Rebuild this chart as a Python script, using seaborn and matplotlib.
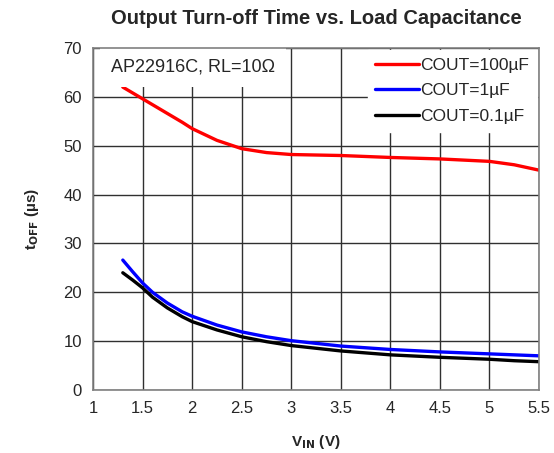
import numpy as np
import pandas as pd
import matplotlib
matplotlib.use("Agg")
import matplotlib.pyplot as plt
import seaborn as sns

# values
vin = [1.3, 1.4, 1.5, 1.6, 1.75, 1.9, 2.0, 2.25, 2.5, 2.75, 3.0, 3.5, 4.0, 4.5, 5.0, 5.25, 5.5]
t_100u = [62.0, 60.8, 59.6, 58.4, 56.6, 54.8, 53.5, 51.1, 49.4, 48.6, 48.2, 48.0, 47.6, 47.3, 46.8, 46.1, 45.0]
t_1u = [26.6, 24.2, 21.9, 20.0, 17.8, 16.0, 15.1, 13.3, 11.9, 10.9, 10.1, 9.0, 8.3, 7.8, 7.4, 7.2, 7.0]
t_01u = [24.0, 22.5, 20.9, 19.0, 16.8, 15.0, 14.0, 12.3, 10.9, 9.9, 9.1, 8.0, 7.2, 6.7, 6.3, 6.0, 5.8]
series = ["COUT=100µF", "COUT=1µF", "COUT=0.1µF"]
colors = ["#ff0000", "#0000ff", "#000000"]

df = pd.concat([
    pd.DataFrame({"Vin": vin, "toff": t_100u, "cap": series[0]}),
    pd.DataFrame({"Vin": vin, "toff": t_1u, "cap": series[1]}),
    pd.DataFrame({"Vin": vin, "toff": t_01u, "cap": series[2]}),
])

sns.set_style("white")
plt.rcParams["font.family"] = ["Liberation Sans", "DejaVu Sans"]

fig = plt.figure(figsize=(5.54, 4.53), dpi=100)
ax = fig.add_axes([0.168, 0.139, 0.805, 0.755])

ax.set_xlim(1, 5.5)
ax.set_ylim(0, 70)
ax.set_xticks(np.arange(1, 5.51, 0.5))
ax.set_xticklabels(["1", "1.5", "2", "2.5", "3", "3.5", "4", "4.5", "5", "5.5"])
ax.set_yticks(range(0, 71, 10))
ax.grid(True, color="#303030", linewidth=1.0)
ax.set_axisbelow(True)
ax.tick_params(axis="both", length=0, labelsize=12, pad=8)
for s in ax.spines.values():
    s.set_color("#808080")
    s.set_linewidth(1.2)
    s.set_zorder(6)

sns.lineplot(data=df, x="Vin", y="toff", hue="cap", hue_order=series,
             palette=colors, linewidth=2.4, ax=ax, zorder=3)

leg = ax.legend(loc="upper right", frameon=True, prop={"size": 12.5}, handlelength=2.5,
                handletextpad=0.1, borderaxespad=0.1, borderpad=0.45, labelspacing=0.6,
                fancybox=False, framealpha=1, edgecolor="white")
leg.set_zorder(5)

ax.text(0.04, 0.945, "AP22916C, RL=10Ω", transform=ax.transAxes, fontsize=13,
        ha="left", va="center", zorder=5,
        bbox=dict(facecolor="white", edgecolor="none", pad=8))

ax.set_title("Output Turn-off Time vs. Load Capacitance", fontsize=14.5,
             fontweight="bold", pad=17)
ax.set_xlabel(r"V$_{\mathbf{IN}}$ (V)", fontsize=11, fontweight="bold", labelpad=12)
ax.set_ylabel(r"t$_{\mathbf{OFF}}$ (µs)", fontsize=11, fontweight="bold", labelpad=16)

fig.savefig("out.png", dpi=100)
